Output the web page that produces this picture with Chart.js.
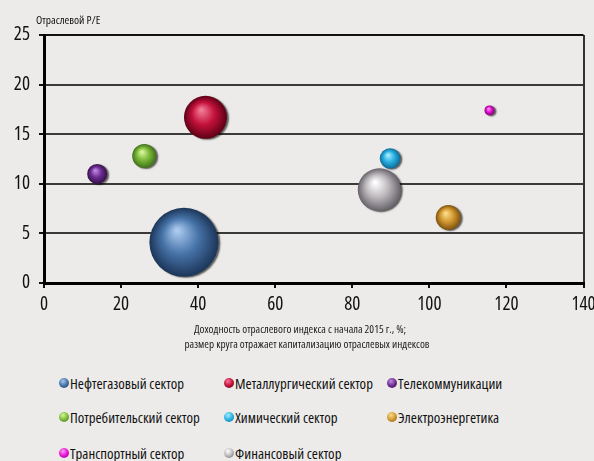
<!DOCTYPE html>
<html lang="ru">
<head>
<meta charset="utf-8">
<title>Отраслевой P/E</title>
<script src="https://cdn.jsdelivr.net/npm/chart.js@4.4.1/dist/chart.umd.min.js"></script>
<style>
  html, body { margin: 0; padding: 0; background: #ecebe9; }
  body { width: 594px; height: 461px; position: relative; overflow: hidden;
         font-family: "Open Sans", sans-serif; font-stretch: condensed; }
  #chart { position: absolute; left: 0; top: 0; }
  #legend { position: absolute; left: 0; top: 370px; width: 594px; }
  .item { position: absolute; display: flex; align-items: center; font-size: 14.8px; color: #111; white-space: nowrap; }
  .dot { width: 10px; height: 10px; border-radius: 50%; margin-right: 1px; flex: none; }
</style>
</head>
<body>
<canvas id="chart" width="618" height="360"></canvas>
<div id="legend"></div>
<script>
// Секторы рынка
const sectors = [
  "Нефтегазовый сектор", "Металлургический сектор", "Телекоммуникации",
  "Потребительский сектор", "Химический сектор", "Электроэнергетика",
  "Транспортный сектор", "Финансовый сектор"
];
// Доходность отраслевого индекса с начала 2015 г., %
const returns = [36.3, 41.9, 13.8, 26.0, 89.8, 104.9, 115.6, 87.0];
// Отраслевой P/E
const peValues = [4.1, 16.7, 11.0, 12.8, 12.55, 6.6, 17.4, 9.4];
// размер круга (капитализация), радиус в px
const sizes = [34.5, 21.5, 10, 12, 10.3, 12.5, 5, 21.5];
// цвета шаров: светлый блик, основной, тень
const colors = [
  ["#a8c8ee", "#4673a8", "#1c3558"],
  ["#f27a96", "#c3113b", "#5c0015"],
  ["#c08ae0", "#6d2d92", "#341048"],
  ["#d8f79a", "#7cba3a", "#40701a"],
  ["#a6ecff", "#2bb1e2", "#0c6a98"],
  ["#fadc88", "#d29a32", "#7e520c"],
  ["#ff9cf4", "#e414d4", "#8a007c"],
  ["#ffffff", "#bdb9bd", "#66626a"]
];
const xTicks = [0, 20, 40, 60, 80, 100, 120, 140];
const yTicks = [0, 5, 10, 15, 20, 25];
const xTitle = ["Доходность отраслевого индекса с начала 2015 г., %;",
                "размер круга отражает капитализацию отраслевых индексов"];
const yTitle = "Отраслевой P/E";

const FAMILY = '"Open Sans", sans-serif';
const NARROW = "normal condensed"; // weight + font-stretch для canvas

// объёмный шар: радиальный градиент со смещённым бликом
function sphere(c, col) {
  if (!c.raw || !c.chart.scales.x) return col[1];
  const x = c.chart.scales.x.getPixelForValue(c.raw.x);
  const y = c.chart.scales.y.getPixelForValue(c.raw.y);
  const r = c.raw.r;
  if (!Number.isFinite(x) || !Number.isFinite(y)) return col[1];
  const g = c.chart.ctx.createRadialGradient(x - r * 0.2, y - r * 0.35, r * 0.05, x, y, r);
  g.addColorStop(0, col[0]);
  g.addColorStop(0.5, col[1]);
  g.addColorStop(1, col[2]);
  return g;
}

const datasets = sectors.map((name, i) => ({
  label: name,
  data: [{ x: returns[i], y: peValues[i], r: sizes[i] }],
  backgroundColor: c => sphere(c, colors[i]),
  borderWidth: 0,
  hoverRadius: 0
}));

// тень справа от шаров, подписи осей
const extras = {
  id: "extras",
  beforeDatasetsDraw(chart) {
    const ctx = chart.ctx;
    ctx.save();
    ctx.shadowColor = "rgba(0,0,0,0.6)";
    ctx.shadowOffsetX = 2;
    ctx.shadowOffsetY = 1;
    ctx.shadowBlur = 1.5;
  },
  afterDatasetsDraw(chart) {
    chart.ctx.restore();
  },
  afterDraw(chart) {
    const ctx = chart.ctx;
    ctx.save();
    ctx.fillStyle = "#111";
    ctx.textBaseline = "middle";
    ctx.font = "normal normal condensed 11.5px " + FAMILY;
    ctx.fillText(yTitle, 36, 21);
    ctx.fillStyle = "#222";
    ctx.textAlign = "center";
    ctx.font = "normal normal condensed 11.2px " + FAMILY;
    ctx.fillText(xTitle[0], 300, 330);
    ctx.fillText(xTitle[1], 307, 345);
    ctx.restore();
  }
};

new Chart(document.getElementById("chart"), {
  type: "bubble",
  data: { datasets },
  plugins: [extras],
  options: {
    responsive: false,
    animation: false,
    events: [],
    layout: { padding: { left: 0, top: 35, right: 10, bottom: 0 } },
    plugins: { legend: { display: false }, tooltip: { enabled: false } },
    scales: {
      x: {
        type: "linear", min: 0, max: 140,
        afterBuildTicks: s => { s.ticks = xTicks.map(v => ({ value: v })); },
        afterFit: s => { s.height = 77; s.paddingLeft = 0; s.paddingRight = 0; },
        ticks: { color: "#111", padding: 5, font: { family: FAMILY, weight: NARROW, size: 19 } },
        grid: {
          color: c => c.tick && c.tick.value === 140 ? "#333" : "transparent",
          lineWidth: 2, tickLength: 5, tickColor: "#111", tickWidth: 2
        },
        border: { color: "#000", width: 3 }
      },
      y: {
        type: "linear", min: 0, max: 25,
        afterBuildTicks: s => { s.ticks = yTicks.map(v => ({ value: v })); },
        afterFit: s => { s.width = 44; s.paddingTop = 0; s.paddingBottom = 0; },
        ticks: { color: "#111", padding: 9, font: { family: FAMILY, weight: NARROW, size: 19 } },
        grid: {
          color: c => c.tick && c.tick.value === 25 ? "#111" : "#3a3a3a",
          lineWidth: 2, tickLength: 5, tickColor: "#111", tickWidth: 2
        },
        border: { color: "#000", width: 3 }
      }
    }
  }
});

// легенда в три колонки
const legendCols = [59, 224, 387];
const legendRows = [383, 417, 453];
const legend = document.getElementById("legend");
sectors.forEach((name, i) => {
  const col = colors[i];
  const item = document.createElement("div");
  item.className = "item";
  item.style.left = legendCols[i % 3] + "px";
  item.style.top = (legendRows[Math.floor(i / 3)] - 370 - 10) + "px";
  item.style.height = "20px";
  const dot = document.createElement("span");
  dot.className = "dot";
  dot.style.background = `radial-gradient(circle at 40% 32%, ${col[0]}, ${col[1]} 50%, ${col[2]} 100%)`;
  item.appendChild(dot);
  item.appendChild(document.createTextNode(name));
  legend.appendChild(item);
});
</script>
</body>
</html>
